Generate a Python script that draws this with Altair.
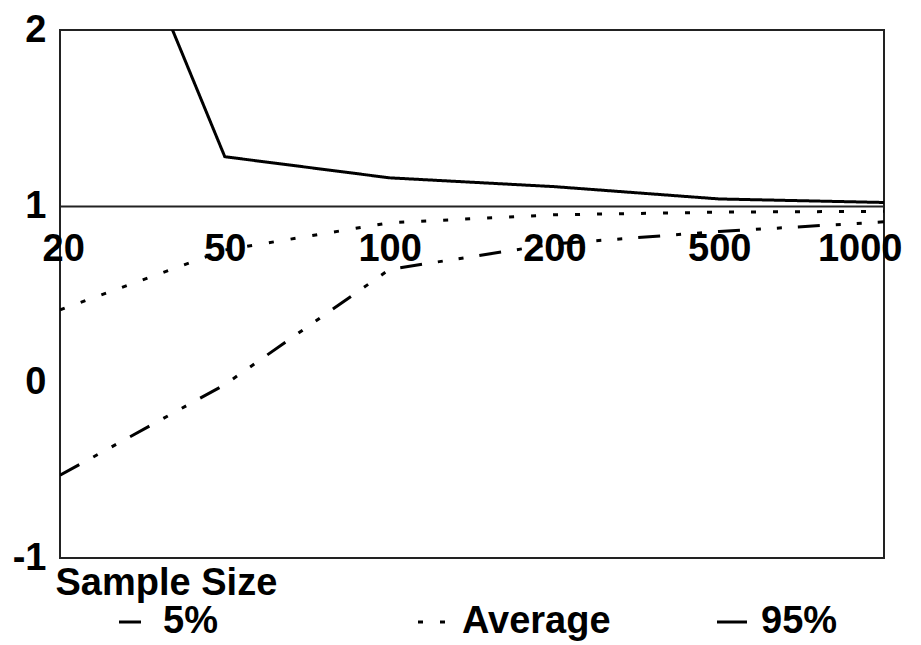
import altair as alt
import pandas as pd

# ---- data ----
sizes = ["20", "50", "100", "200", "500", "1000"]
p5 = [-0.53, -0.015, 0.64, 0.785, 0.855, 0.91]
avg = [0.41, 0.75, 0.905, 0.95, 0.965, 0.97]
p95 = [3.55, 1.28, 1.16, 1.11, 1.04, 1.02]
series_names = ["5%", "Average", "95%"]
y_ticks = [-1, 0, 1, 2]

rows = []
for name, vals in zip(series_names, [p5, avg, p95]):
    for s, v in zip(sizes, vals):
        rows.append({"size": s, "value": v, "series": name})
df = pd.DataFrame(rows)

FONT = "Liberation Sans"
FS = 38

chart = (
    alt.Chart(df)
    .mark_line(clip=True, strokeWidth=3, color="black", strokeCap="butt")
    .encode(
        x=alt.X(
            "size:N",
            sort=sizes,
            scale=alt.Scale(type="point", padding=0),
            axis=alt.Axis(
                orient="bottom",
                offset=-352,
                domainColor="#222",
                domainWidth=2,
                ticks=False,
                grid=False,
                labelAngle=0,
                labelPadding=24,
                labelBaseline="top",
                labelFlush=True,
                labelFlushOffset=18,
                labelFont=FONT,
                labelFontSize=FS,
                labelFontWeight="bold",
                labelColor="black",
                title="Sample Size",
                titleFont=FONT,
                titleFontSize=FS,
                titleFontWeight="bold",
                titleColor="black",
                titleAlign="left",
                titleAnchor="start",
                titleBaseline="top",
                titleX=-5,
                titleY=358,
            ),
        ),
        y=alt.Y(
            "value:Q",
            scale=alt.Scale(domain=[-1, 2], nice=False, zero=False),
            axis=alt.Axis(
                values=y_ticks,
                ticks=False,
                domain=False,
                grid=False,
                labelPadding=14,
                labelExpr="toString(datum.value)",
                labelFont=FONT,
                labelFontSize=FS,
                labelFontWeight="bold",
                labelColor="black",
                title=None,
            ),
        ),
        strokeDash=alt.StrokeDash(
            "series:N",
            sort=series_names,
            scale=alt.Scale(
                domain=series_names,
                range=[[22, 16, 5, 16, 5, 16], [5, 17], [1, 0]],
            ),
            legend=alt.Legend(
                title=None,
                orient="none",
                direction="horizontal",
                legendX=55,
                legendY=573,
                symbolType="stroke",
                symbolSize=900,
                symbolStrokeWidth=3,
                symbolStrokeColor="black",
                labelFont=FONT,
                labelFontSize=FS,
                labelFontWeight="bold",
                labelColor="black",
                labelOffset=10,
                labelLimit=300,
                columnPadding=100,
                gridAlign="all",
                padding=0,
            ),
        ),
        detail="series:N",
    )
    .properties(
        width=824,
        height=528,
        autosize=alt.AutoSizeParams(type="none"),
        padding={"left": 52, "top": 22, "right": 29, "bottom": 83},
    )
    .configure(background="white")
    .configure_view(stroke="#222", strokeWidth=2)
)

chart.save("out.html", embed_options={"renderer": "svg", "actions": False})
